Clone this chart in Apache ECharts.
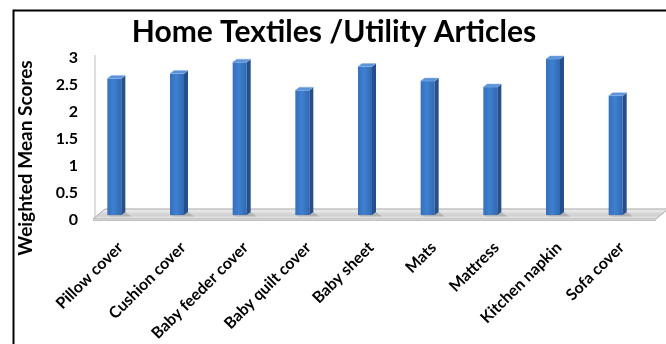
<!DOCTYPE html>
<html><head><meta charset="utf-8">
<script src="https://cdn.jsdelivr.net/npm/echarts@6/dist/echarts.min.js"></script>
<style>html,body{margin:0;padding:0;background:#fff}#c{width:666px;height:344px}</style>
</head><body><div id="c"></div>
<script>
const categories = ['Pillow cover','Cushion cover','Baby feeder cover','Baby quilt cover','Baby sheet','Mats','Mattress','Kitchen napkin','Sofa cover'];
const scores = [2.53, 2.62, 2.83, 2.31, 2.75, 2.48, 2.37, 2.89, 2.21];
const yTicks = [0, 0.5, 1, 1.5, 2, 2.5, 3];
const titleText = 'Home Textiles /Utility Articles';
const yAxisTitle = 'Weighted Mean Scores';

const FONT = 'Lato';
const DEPTH_SHIFT = 6; // 3D projection: front face sits left of category centre
const DEPTH_LIFT = 5;  // front face bottom sits above the back-wall zero line
const chart = echarts.init(document.getElementById('c'));

function floorItem(params, api) {
  const cs = params.coordSys;
  const y0 = api.coord([0, 0])[1];
  const yTop = api.coord([0, yTicks[yTicks.length - 1]])[1];
  const fy = y0 - 1, by = y0 - 11;
  const L = cs.x - DEPTH_SHIFT, R = cs.x + cs.width - DEPTH_SHIFT;
  const fl = L + 10, fr = R + 9;
  const bl = L + 22, br = R + 21;
  return {
    type: 'group',
    children: [
      { type: 'polygon', shape: { points: [[fl, fy], [fr, fy], [br, by], [bl, by]] },
        style: { fill: new echarts.graphic.LinearGradient(0, 0, 0, 1, [
          { offset: 0, color: '#f4f4f4' }, { offset: 0.6, color: '#cfcfcf' }, { offset: 1, color: '#ededed' }]),
          stroke: '#a6a6a6', lineWidth: 1 } },
      { type: 'line', shape: { x1: fl, y1: fy + 1.5, x2: fr, y2: fy + 1.5 }, style: { stroke: '#bfbfbf', lineWidth: 1 } },
      { type: 'line', shape: { x1: L + 12, y1: yTop - 3, x2: L + 12, y2: fy - 1 }, style: { stroke: '#bfbfbf', lineWidth: 1 } }
    ]
  };
}

function barItem(params, api) {
  const p0 = api.coord([api.value(0), 0]);
  const cx = p0[0] - DEPTH_SHIFT;
  const yb = p0[1] - DEPTH_LIFT;
  const yt = api.coord([api.value(0), api.value(1)])[1] - DEPTH_LIFT;
  const w = 14, d = 4, h = 3;
  const x0 = cx - w / 2, x1 = cx + w / 2;
  return {
    type: 'group',
    children: [
      { type: 'polygon', shape: { points: [[x0, yb], [x0 + 3, yb + 1.5], [x1 + d + 6, yb + 1.5], [x1 + d, yb - h]] },
        style: { fill: 'rgba(120,120,120,0.35)' } },
      { type: 'rect', shape: { x: x0, y: yt, width: w, height: yb - yt },
        style: { fill: new echarts.graphic.LinearGradient(0, 0, 1, 0, [
          { offset: 0, color: '#3570bd' }, { offset: 0.45, color: '#3f80d0' }, { offset: 1, color: '#3168b2' }]) } },
      { type: 'polygon', shape: { points: [[x1, yt], [x1 + d, yt - h], [x1 + d, yb - h], [x1, yb]] },
        style: { fill: '#254f8a' } },
      { type: 'polygon', shape: { points: [[x0, yt], [x1, yt], [x1 + d, yt - h], [x0 + d, yt - h]] },
        style: { fill: '#5a93d9', stroke: '#8fb6e6', lineWidth: 0.5 } }
    ]
  };
}

chart.setOption({
  animation: false,
  backgroundColor: '#fff',
  title: {
    text: titleText, left: 329, top: 12, textAlign: 'center',
    textStyle: { fontFamily: FONT, fontWeight: 'bold', fontSize: 30, color: '#000' }
  },
  graphic: [
    { type: 'rect', left: 11, top: 8, shape: { width: 700, height: 400 },
      style: { fill: 'none', stroke: '#000', lineWidth: 2 }, silent: true },
    { type: 'text', x: 26, y: 158, rotation: Math.PI / 2,
      style: { text: yAxisTitle, fontFamily: FONT, fontWeight: 'bold', fontSize: 19, fill: '#000',
        align: 'center', verticalAlign: 'middle' }, silent: true }
  ],
  grid: { left: 89, right: 13, top: 58, bottom: 124 },
  xAxis: {
    type: 'category', data: categories,
    axisLine: { show: false }, axisTick: { show: false },
    axisLabel: { rotate: 45, margin: 25, interval: 0, fontFamily: FONT, fontWeight: 'bold', fontSize: 16, color: '#000' }
  },
  yAxis: {
    type: 'value', min: 0, max: 3, interval: 0.5,
    axisLine: { show: false }, axisTick: { show: false }, splitLine: { show: false },
    axisLabel: { margin: 11, fontFamily: FONT, fontWeight: 'bold', fontSize: 16, color: '#000',
      formatter: v => String(v) }
  },
  series: [
    { type: 'custom', renderItem: floorItem, data: [[0, 0]], silent: true, z: 1 },
    { type: 'custom', renderItem: barItem, data: scores.map((v, i) => [i, v]), z: 2,
      encode: { x: 0, y: 1 } }
  ]
});
</script></body></html>
